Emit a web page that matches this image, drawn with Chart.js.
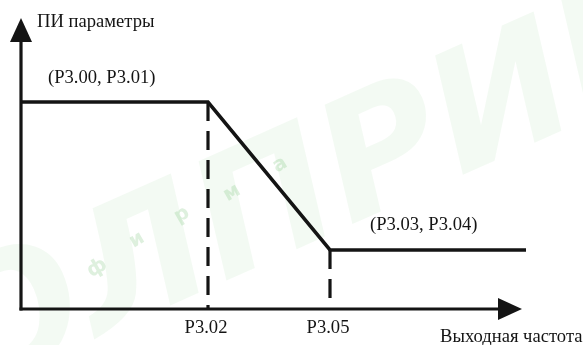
<!DOCTYPE html>
<html>
<head>
<meta charset="utf-8">
<script src="https://cdn.jsdelivr.net/npm/chart.js@4/dist/chart.umd.min.js"></script>
<style>
  html, body { margin: 0; padding: 0; background: #fff; }
  canvas { display: block; }
</style>
</head>
<body>
<canvas id="c" width="583" height="345"></canvas>
<script>
// ---- data (abstract units, frequency 0..100, PI params 0..100) ----
const curveX = [0, 37.4, 61.8, 101];
const curveY = [71.1, 71.1, 20.3, 20.3];
const xTickValues = [37.4, 61.8];
const xTickLabels = ['P3.02', 'P3.05'];
const pointLabels = ['(P3.00, P3.01)', '(P3.03, P3.04)'];
const yAxisTitle = 'ПИ параметры';
const xAxisTitle = 'Выходная частота';
const watermarkText = 'ОЛПРИБОР';
const watermarkSub = ['ф', 'и', 'р', 'м', 'а'];

// label anchors (data units) – layout only
const pointLabelPos = [{ x: 5.4, y: 77.7 }, { x: 69.8, y: 27.1 }];

const curveData = curveX.map((x, i) => ({ x, y: curveY[i] }));
const dashData1 = [{ x: curveX[1], y: curveY[1] }, { x: curveX[1], y: 0 }];
const dashData2 = [{ x: curveX[2], y: curveY[2] }, { x: curveX[2], y: 0 }];

const FONT = '18.6px "Liberation Serif", "Times New Roman", serif';
const INK = '#141414';

const watermarkPlugin = {
  id: 'watermark',
  beforeDraw(chart) {
    const ctx = chart.ctx;
    ctx.save();
    ctx.translate(-30, 395);
    ctx.rotate(-0.42);
    ctx.font = 'italic bold 165px "DejaVu Sans", sans-serif';
    ctx.fillStyle = 'rgba(90, 190, 90, 0.07)';
    ctx.textBaseline = 'alphabetic';
    ctx.fillText(watermarkText, 0, 0);
    ctx.restore();

    ctx.save();
    ctx.font = 'bold 20px "DejaVu Sans", sans-serif';
    ctx.fillStyle = 'rgba(90, 180, 90, 0.20)';
    const pos = [[97, 268], [137, 240], [182, 215], [232, 193], [280, 165]];
    watermarkSub.forEach((ch, i) => {
      ctx.save();
      ctx.translate(pos[i][0], pos[i][1]);
      ctx.rotate(-0.52);
      ctx.textAlign = 'center';
      ctx.textBaseline = 'middle';
      ctx.fillText(ch, 0, 0);
      ctx.restore();
    });
    ctx.restore();
  }
};

const axesPlugin = {
  id: 'arrowAxes',
  afterDatasetsDraw(chart) {
    const ctx = chart.ctx;
    const xs = chart.scales.x, ys = chart.scales.y;
    const x0 = xs.getPixelForValue(0), y0 = ys.getPixelForValue(0);
    const xTip = xs.getPixelForValue(100) + 1, yTip = ys.getPixelForValue(100);
    const headLen = 24, headHalf = 11;
    ctx.save();
    ctx.strokeStyle = INK;
    ctx.fillStyle = INK;
    ctx.lineWidth = 3.2;
    ctx.lineCap = 'butt';
    // y axis
    ctx.beginPath();
    ctx.moveTo(x0, y0 + 1.5);
    ctx.lineTo(x0, yTip + headLen - 2);
    ctx.stroke();
    ctx.beginPath();
    ctx.moveTo(x0, yTip);
    ctx.lineTo(x0 - headHalf, yTip + headLen);
    ctx.lineTo(x0 + headHalf, yTip + headLen);
    ctx.closePath();
    ctx.fill();
    // x axis
    ctx.beginPath();
    ctx.moveTo(x0 - 1.5, y0);
    ctx.lineTo(xTip - headLen + 2, y0);
    ctx.stroke();
    ctx.beginPath();
    ctx.moveTo(xTip, y0);
    ctx.lineTo(xTip - headLen, y0 - headHalf);
    ctx.lineTo(xTip - headLen, y0 + headHalf);
    ctx.closePath();
    ctx.fill();

    // texts
    ctx.font = FONT;
    ctx.textBaseline = 'alphabetic';
    ctx.textAlign = 'left';
    ctx.fillText(yAxisTitle, x0 + 16, 27);
    ctx.fillText(xAxisTitle, 440, 342);
    pointLabels.forEach((t, i) => {
      ctx.fillText(t, xs.getPixelForValue(pointLabelPos[i].x), ys.getPixelForValue(pointLabelPos[i].y));
    });
    ctx.textAlign = 'center';
    xTickValues.forEach((v, i) => {
      ctx.fillText(xTickLabels[i], xs.getPixelForValue(v) - 2, y0 + 24);
    });
    ctx.restore();
  }
};

new Chart(document.getElementById('c'), {
  type: 'scatter',
  data: {
    datasets: [
      { data: curveData, showLine: true, borderColor: INK, borderWidth: 3.5, pointRadius: 0, clip: false, borderJoinStyle: 'miter' },
      { data: dashData1, showLine: true, borderColor: INK, borderWidth: 3.2, borderDash: [19, 10], pointRadius: 0, clip: false },
      { data: dashData2, showLine: true, borderColor: INK, borderWidth: 3.2, borderDash: [19, 10], pointRadius: 0, clip: false }
    ]
  },
  options: {
    responsive: false,
    animation: false,
    devicePixelRatio: 1,
    layout: { padding: { left: 21, right: 62, top: 18, bottom: 36 } },
    plugins: { legend: { display: false }, tooltip: { enabled: false } },
    scales: {
      x: { type: 'linear', min: 0, max: 100, display: false },
      y: { type: 'linear', min: 0, max: 100, display: false }
    }
  },
  plugins: [watermarkPlugin, axesPlugin]
});
</script>
</body>
</html>
